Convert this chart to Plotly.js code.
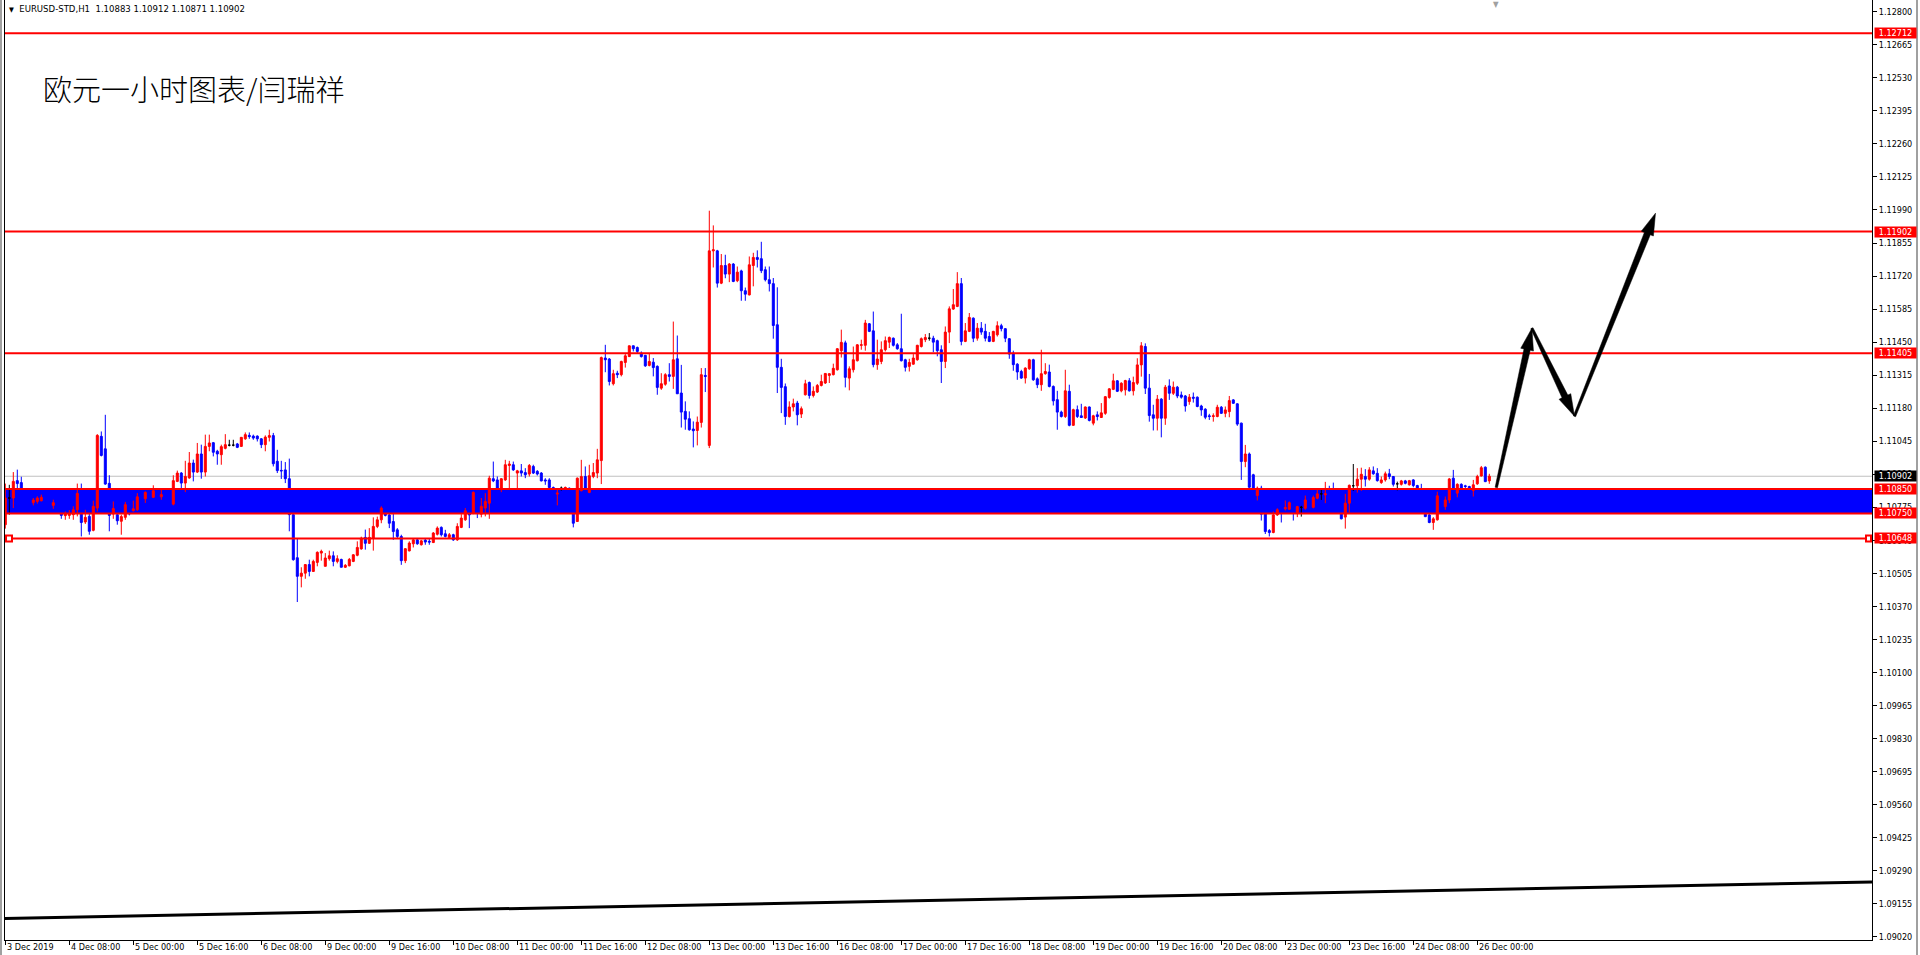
<!DOCTYPE html>
<html><head><meta charset="utf-8">
<script src="https://cdn.plot.ly/plotly-3.0.1.min.js"></script>
<style>html,body{margin:0;padding:0;background:#fff;overflow:hidden}#chart{width:1920px;height:955px}</style>
</head><body><div id="chart"></div>
<script>
// ---- EURUSD H1 candles (bar 0 = 3 Dec 2019 16:00) ----
const openP = [
1.10704,1.10813,1.10813,1.10884,1.10876,1.10827,1.10806,1.10794,1.10799,1.10802,
1.10806,1.10797,1.10783,1.10791,1.10752,1.10741,1.10742,1.10745,1.10765,1.10830,
1.10715,1.10738,1.10681,1.10772,1.11065,1.11014,1.10873,1.10748,1.10745,1.10718,
1.10734,1.10783,1.10761,1.10765,1.10818,1.10810,1.10836,1.10816,1.10843,1.10818,
1.10827,1.10813,1.10788,1.10881,1.10915,1.10874,1.10895,1.10956,1.10919,1.10993,
1.10919,1.11024,1.11039,1.11004,1.10990,1.11016,1.11029,1.11029,1.11034,1.11024,
1.11055,1.11069,1.11066,1.11066,1.11055,1.11031,1.11061,1.11068,1.10963,1.10926,
1.10928,1.10892,1.10745,1.10569,1.10493,1.10506,1.10541,1.10513,1.10550,1.10588,
1.10534,1.10565,1.10577,1.10554,1.10562,1.10530,1.10536,1.10554,1.10579,1.10605,
1.10652,1.10628,1.10649,1.10697,1.10724,1.10751,1.10744,1.10717,1.10683,1.10656,
1.10557,1.10597,1.10626,1.10642,1.10622,1.10641,1.10636,1.10631,1.10665,1.10693,
1.10667,1.10652,1.10663,1.10642,1.10693,1.10724,1.10751,1.10751,1.10836,1.10747,
1.10772,1.10792,1.10892,1.10887,1.10853,1.10887,1.10946,1.10949,1.10915,1.10924,
1.10917,1.10911,1.10942,1.10922,1.10915,1.10887,1.10887,1.10856,1.10829,1.10853,
1.10851,1.10853,1.10751,1.10717,1.10843,1.10901,1.10836,1.10901,1.10915,1.10966,
1.11385,1.11381,1.11280,1.11323,1.11317,1.11367,1.11391,1.11435,1.11428,1.11405,
1.11396,1.11355,1.11368,1.11351,1.11262,1.11278,1.11317,1.11310,1.11382,1.11242,
1.11167,1.11137,1.11095,1.11089,1.11122,1.11314,1.11028,1.11823,1.11823,1.11691,
1.11763,1.11728,1.11769,1.11701,1.11741,1.11660,1.11643,1.11763,1.11796,1.11791,
1.11746,1.11705,1.11689,1.11521,1.11347,1.11268,1.11146,1.11185,1.11201,1.11156,
1.11235,1.11285,1.11232,1.11246,1.11273,1.11283,1.11314,1.11317,1.11337,1.11415,
1.11447,1.11303,1.11337,1.11374,1.11437,1.11437,1.11525,1.11496,1.11358,1.11371,
1.11419,1.11450,1.11466,1.11439,1.11423,1.11378,1.11351,1.11360,1.11378,1.11432,
1.11460,1.11466,1.11466,1.11456,1.11419,1.11371,1.11491,1.11585,1.11596,1.11689,
1.11453,1.11494,1.11548,1.11466,1.11507,1.11494,1.11473,1.11453,1.11480,1.11517,
1.11505,1.11464,1.11405,1.11360,1.11330,1.11303,1.11341,1.11378,1.11300,1.11276,
1.11321,1.11328,1.11269,1.11215,1.11164,1.11146,1.11249,1.11110,1.11174,1.11149,
1.11140,1.11185,1.11119,1.11153,1.11142,1.11159,1.11224,1.11257,1.11292,1.11251,
1.11255,1.11292,1.11251,1.11282,1.11357,1.11432,1.11262,1.11153,1.11139,1.11217,
1.11139,1.11271,1.11241,1.11266,1.11234,1.11230,1.11207,1.11225,1.11225,1.11189,
1.11176,1.11149,1.11146,1.11146,1.11184,1.11159,1.11166,1.11214,1.11198,1.11119,
1.10962,1.10993,1.10908,1.10823,1.10853,1.10748,1.10680,1.10672,1.10744,1.10765,
1.10769,1.10767,1.10794,1.10754,1.10775,1.10771,1.10805,1.10775,1.10812,1.10830,
1.10826,1.10830,1.10812,1.10792,1.10754,1.10735,1.10792,1.10863,1.10863,1.10890,
1.10901,1.10890,1.10924,1.10914,1.10876,1.10887,1.10912,1.10901,1.10871,1.10869,
1.10883,1.10867,1.10887,1.10864,1.10819,1.10778,1.10744,1.10713,1.10724,1.10822,
1.10778,1.10805,1.10894,1.10833,1.10869,1.10863,1.10860,1.10844,1.10871,1.10903,
1.10939,1.10883];
const highP = [
1.10872,1.10867,1.10919,1.10929,1.10900,1.10840,1.10820,1.10813,1.10820,1.10827,
1.10813,1.10805,1.10806,1.10799,1.10765,1.10758,1.10764,1.10779,1.10872,1.10872,
1.10765,1.10752,1.10802,1.11074,1.11085,1.11153,1.10906,1.10799,1.10765,1.10745,
1.10797,1.10793,1.10802,1.10833,1.10827,1.10840,1.10847,1.10865,1.10851,1.10846,
1.10837,1.10820,1.10906,1.10925,1.10919,1.10965,1.11001,1.10970,1.11038,1.11031,
1.11072,1.11072,1.11042,1.11010,1.11031,1.11074,1.11051,1.11051,1.11038,1.11062,
1.11081,1.11081,1.11072,1.11069,1.11058,1.11069,1.11092,1.11079,1.11010,1.10965,
1.10960,1.10974,1.10752,1.10649,1.10530,1.10543,1.10561,1.10561,1.10595,1.10602,
1.10588,1.10598,1.10595,1.10579,1.10565,1.10543,1.10568,1.10584,1.10636,1.10655,
1.10684,1.10690,1.10734,1.10737,1.10779,1.10758,1.10751,1.10751,1.10690,1.10663,
1.10608,1.10636,1.10646,1.10649,1.10642,1.10646,1.10649,1.10674,1.10697,1.10697,
1.10683,1.10670,1.10667,1.10710,1.10747,1.10772,1.10755,1.10840,1.10840,1.10813,
1.10833,1.10904,1.10962,1.10901,1.10894,1.10969,1.10965,1.10962,1.10928,1.10952,
1.10935,1.10952,1.10949,1.10927,1.10919,1.10894,1.10894,1.10860,1.10853,1.10860,
1.10860,1.10856,1.10758,1.10897,1.10969,1.10942,1.10949,1.10956,1.11014,1.11391,
1.11439,1.11385,1.11337,1.11333,1.11374,1.11401,1.11436,1.11436,1.11432,1.11412,
1.11398,1.11405,1.11385,1.11355,1.11323,1.11323,1.11364,1.11534,1.11477,1.11357,
1.11208,1.11167,1.11126,1.11146,1.11344,1.11344,1.11987,1.11927,1.11827,1.11810,
1.11807,1.11773,1.11773,1.11759,1.11746,1.11673,1.11800,1.11815,1.11825,1.11860,
1.11759,1.11759,1.11712,1.11674,1.11382,1.11281,1.11208,1.11219,1.11210,1.11187,
1.11296,1.11289,1.11269,1.11279,1.11317,1.11323,1.11323,1.11362,1.11426,1.11501,
1.11456,1.11351,1.11432,1.11442,1.11460,1.11541,1.11528,1.11575,1.11460,1.11453,
1.11473,1.11473,1.11469,1.11446,1.11566,1.11382,1.11382,1.11401,1.11439,1.11469,
1.11483,1.11487,1.11476,1.11460,1.11437,1.11514,1.11596,1.11667,1.11736,1.11712,
1.11528,1.11569,1.11551,1.11528,1.11532,1.11525,1.11491,1.11496,1.11535,1.11525,
1.11507,1.11466,1.11415,1.11364,1.11337,1.11347,1.11382,1.11382,1.11306,1.11419,
1.11364,1.11358,1.11273,1.11251,1.11170,1.11337,1.11276,1.11178,1.11191,1.11198,
1.11187,1.11187,1.11153,1.11167,1.11201,1.11230,1.11262,1.11321,1.11295,1.11286,
1.11296,1.11303,1.11309,1.11384,1.11450,1.11445,1.11320,1.11194,1.11234,1.11221,
1.11275,1.11298,1.11289,1.11271,1.11248,1.11234,1.11238,1.11244,1.11228,1.11194,
1.11180,1.11157,1.11159,1.11194,1.11189,1.11187,1.11230,1.11217,1.11200,1.11121,
1.11030,1.10999,1.10912,1.10860,1.10863,1.10754,1.10686,1.10758,1.10771,1.10778,
1.10803,1.10799,1.10805,1.10781,1.10781,1.10823,1.10816,1.10823,1.10846,1.10846,
1.10879,1.10863,1.10876,1.10799,1.10758,1.10830,1.10868,1.10952,1.10935,1.10937,
1.10931,1.10939,1.10942,1.10935,1.10901,1.10921,1.10932,1.10903,1.10880,1.10887,
1.10887,1.10887,1.10890,1.10867,1.10871,1.10785,1.10758,1.10735,1.10839,1.10833,
1.10819,1.10895,1.10928,1.10873,1.10873,1.10867,1.10863,1.10887,1.10908,1.10944,
1.10942,1.10912];
const lowP = [
1.10688,1.10745,1.10772,1.10851,1.10813,1.10793,1.10786,1.10783,1.10790,1.10799,
1.10791,1.10783,1.10769,1.10758,1.10728,1.10724,1.10728,1.10724,1.10738,1.10656,
1.10707,1.10663,1.10677,1.10758,1.10983,1.10867,1.10677,1.10728,1.10704,1.10663,
1.10724,1.10742,1.10758,1.10761,1.10799,1.10793,1.10813,1.10813,1.10816,1.10806,
1.10806,1.10788,1.10783,1.10878,1.10854,1.10837,1.10892,1.10881,1.10915,1.10892,
1.10901,1.11004,1.10983,1.10949,1.10949,1.11012,1.11024,1.11024,1.11017,1.11023,
1.11051,1.11055,1.11051,1.11044,1.11017,1.11004,1.11044,1.10942,1.10915,1.10891,
1.10874,1.10677,1.10557,1.10388,1.10448,1.10483,1.10493,1.10513,1.10534,1.10557,
1.10534,1.10557,1.10534,1.10546,1.10530,1.10527,1.10534,1.10551,1.10575,1.10602,
1.10602,1.10625,1.10598,1.10690,1.10710,1.10738,1.10690,1.10642,1.10649,1.10540,
1.10547,1.10595,1.10611,1.10622,1.10619,1.10622,1.10622,1.10629,1.10660,1.10656,
1.10652,1.10649,1.10638,1.10638,1.10690,1.10720,1.10690,1.10747,1.10731,1.10734,
1.10738,1.10728,1.10878,1.10851,1.10837,1.10883,1.10853,1.10924,1.10853,1.10901,
1.10894,1.10901,1.10911,1.10905,1.10881,1.10867,1.10853,1.10829,1.10783,1.10843,
1.10847,1.10755,1.10693,1.10715,1.10840,1.10851,1.10833,1.10894,1.10894,1.10870,
1.11327,1.11273,1.11273,1.11303,1.11310,1.11346,1.11389,1.11412,1.11405,1.11387,
1.11349,1.11351,1.11310,1.11235,1.11255,1.11272,1.11289,1.11259,1.11238,1.11101,
1.11092,1.11088,1.11020,1.11028,1.11101,1.11246,1.11017,1.11755,1.11673,1.11687,
1.11711,1.11695,1.11695,1.11695,1.11619,1.11619,1.11641,1.11678,1.11755,1.11732,
1.11698,1.11657,1.11464,1.11242,1.11160,1.11112,1.11142,1.11167,1.11110,1.11140,
1.11232,1.11219,1.11224,1.11242,1.11269,1.11279,1.11283,1.11314,1.11334,1.11387,
1.11265,1.11253,1.11326,1.11371,1.11419,1.11415,1.11491,1.11347,1.11337,1.11360,
1.11412,1.11426,1.11432,1.11419,1.11371,1.11330,1.11330,1.11358,1.11374,1.11428,
1.11450,1.11456,1.11409,1.11392,1.11283,1.11344,1.11446,1.11582,1.11593,1.11437,
1.11450,1.11491,1.11450,1.11456,1.11480,1.11453,1.11450,1.11450,1.11473,1.11494,
1.11450,1.11382,1.11333,1.11296,1.11300,1.11281,1.11337,1.11292,1.11262,1.11251,
1.11317,1.11265,1.11191,1.11092,1.11142,1.11140,1.11106,1.11108,1.11140,1.11140,
1.11136,1.11126,1.11110,1.11130,1.11140,1.11153,1.11219,1.11254,1.11246,1.11245,
1.11232,1.11248,1.11232,1.11275,1.11309,1.11238,1.11125,1.11089,1.11089,1.11061,
1.11112,1.11214,1.11234,1.11221,1.11219,1.11166,1.11194,1.11203,1.11184,1.11149,
1.11135,1.11132,1.11125,1.11143,1.11157,1.11143,1.11143,1.11198,1.11108,1.10887,
1.10939,1.10846,1.10826,1.10803,1.10721,1.10666,1.10656,1.10669,1.10740,1.10713,
1.10762,1.10765,1.10721,1.10735,1.10737,1.10765,1.10785,1.10771,1.10808,1.10805,
1.10792,1.10805,1.10785,1.10754,1.10726,1.10688,1.10754,1.10842,1.10835,1.10842,
1.10860,1.10884,1.10908,1.10880,1.10871,1.10880,1.10890,1.10860,1.10844,1.10864,
1.10869,1.10864,1.10857,1.10812,1.10771,1.10735,1.10710,1.10683,1.10721,1.10778,
1.10765,1.10792,1.10846,1.10816,1.10846,1.10844,1.10835,1.10819,1.10867,1.10901,
1.10878,1.10871];
const closeP = [
1.10813,1.10813,1.10881,1.10872,1.10827,1.10806,1.10797,1.10805,1.10813,1.10816,
1.10797,1.10788,1.10794,1.10765,1.10742,1.10748,1.10750,1.10765,1.10832,1.10713,
1.10734,1.10677,1.10779,1.11069,1.10987,1.10870,1.10742,1.10770,1.10720,1.10737,
1.10786,1.10748,1.10769,1.10818,1.10806,1.10836,1.10820,1.10843,1.10824,1.10827,
1.10813,1.10797,1.10884,1.10915,1.10874,1.10901,1.10956,1.10919,1.10993,1.10919,
1.11024,1.11038,1.11000,1.10993,1.11023,1.11031,1.11029,1.11029,1.11020,1.11061,
1.11072,1.11064,1.11058,1.11055,1.11031,1.11062,1.11068,1.10953,1.10925,1.10924,
1.10892,1.10745,1.10561,1.10493,1.10506,1.10541,1.10513,1.10554,1.10591,1.10595,
1.10568,1.10577,1.10554,1.10565,1.10530,1.10538,1.10562,1.10581,1.10611,1.10649,
1.10628,1.10652,1.10697,1.10724,1.10772,1.10742,1.10710,1.10676,1.10656,1.10557,
1.10606,1.10629,1.10642,1.10626,1.10638,1.10633,1.10633,1.10670,1.10690,1.10663,
1.10656,1.10663,1.10642,1.10697,1.10731,1.10761,1.10744,1.10836,1.10751,1.10779,
1.10799,1.10894,1.10883,1.10853,1.10892,1.10949,1.10952,1.10928,1.10924,1.10915,
1.10908,1.10946,1.10915,1.10911,1.10883,1.10883,1.10856,1.10833,1.10833,1.10853,
1.10856,1.10758,1.10710,1.10894,1.10901,1.10853,1.10904,1.10917,1.10969,1.11387,
1.11378,1.11289,1.11321,1.11317,1.11371,1.11394,1.11435,1.11423,1.11412,1.11391,
1.11353,1.11371,1.11346,1.11265,1.11280,1.11317,1.11310,1.11378,1.11239,1.11164,
1.11135,1.11092,1.11088,1.11123,1.11317,1.11310,1.11823,1.11827,1.11691,1.11763,
1.11728,1.11769,1.11698,1.11736,1.11660,1.11646,1.11766,1.11796,1.11788,1.11742,
1.11705,1.11689,1.11518,1.11347,1.11265,1.11146,1.11185,1.11198,1.11153,1.11178,
1.11280,1.11232,1.11249,1.11273,1.11289,1.11322,1.11321,1.11343,1.11423,1.11449,
1.11306,1.11341,1.11378,1.11439,1.11439,1.11528,1.11494,1.11358,1.11381,1.11419,
1.11456,1.11469,1.11437,1.11423,1.11374,1.11347,1.11367,1.11385,1.11437,1.11464,
1.11469,1.11466,1.11450,1.11415,1.11371,1.11491,1.11586,1.11603,1.11689,1.11453,
1.11496,1.11551,1.11466,1.11507,1.11491,1.11466,1.11453,1.11494,1.11517,1.11505,
1.11466,1.11401,1.11358,1.11328,1.11303,1.11344,1.11378,1.11296,1.11276,1.11321,
1.11330,1.11269,1.11210,1.11164,1.11146,1.11251,1.11110,1.11174,1.11146,1.11142,
1.11185,1.11130,1.11149,1.11146,1.11161,1.11227,1.11259,1.11292,1.11249,1.11282,
1.11293,1.11251,1.11285,1.11357,1.11435,1.11262,1.11150,1.11139,1.11217,1.11139,
1.11266,1.11241,1.11266,1.11230,1.11225,1.11189,1.11225,1.11221,1.11187,1.11173,
1.11143,1.11146,1.11149,1.11184,1.11159,1.11173,1.11211,1.11200,1.11115,1.10962,
1.10993,1.10857,1.10833,1.10853,1.10747,1.10676,1.10672,1.10744,1.10765,1.10754,
1.10774,1.10794,1.10778,1.10778,1.10775,1.10805,1.10792,1.10815,1.10830,1.10830,
1.10830,1.10812,1.10792,1.10758,1.10728,1.10792,1.10865,1.10863,1.10890,1.10910,
1.10890,1.10928,1.10912,1.10884,1.10887,1.10912,1.10901,1.10869,1.10871,1.10883,
1.10873,1.10884,1.10864,1.10819,1.10778,1.10737,1.10713,1.10728,1.10822,1.10785,
1.10805,1.10891,1.10849,1.10869,1.10850,1.10860,1.10844,1.10867,1.10901,1.10937,
1.10880,1.10902];

// ---- time axis labels (bar index of each label) ----
const xTickBars = [0,16,32,48,64,80,96,112,128,144,160,176,192,208,224,240,256,272,288,304,320,336,352,368];
const xTickText = ["3 Dec 2019","4 Dec 08:00","5 Dec 00:00","5 Dec 16:00","6 Dec 08:00","9 Dec 00:00","9 Dec 16:00",
  "10 Dec 08:00","11 Dec 00:00","11 Dec 16:00","12 Dec 08:00","13 Dec 00:00","13 Dec 16:00","16 Dec 08:00",
  "17 Dec 00:00","17 Dec 16:00","18 Dec 08:00","19 Dec 00:00","19 Dec 16:00","20 Dec 08:00","23 Dec 00:00",
  "23 Dec 16:00","24 Dec 08:00","26 Dec 00:00"];
// ---- price axis ticks ----
const yTickVals = [1.12800,1.12665,1.12530,1.12395,1.12260,1.12125,1.11990,1.11855,1.11720,1.11585,1.11450,
  1.11315,1.11180,1.11045,1.10910,1.10775,1.10640,1.10505,1.10370,1.10235,1.10100,1.09965,1.09830,1.09695,
  1.09560,1.09425,1.09290,1.09155,1.09020];
// ---- drawn objects ----
const redLevels = [1.12712, 1.11902, 1.11405, 1.10850, 1.10750, 1.10648];
const bandLevels = [1.10750, 1.10850];
const bidLevel = 1.10902;
const trendLine = [[-0.075, 1.09095], [466.675, 1.09244]];
const arrowPts = [[372.75, 1.10856], [381.65, 1.11507], [392.3, 1.11147], [412.55, 1.11977]];
const titleText = "欧元一小时图表/闫瑞祥";
const symbolText = "EURUSD-STD,H1";

if (![highP,lowP,closeP].every(a => a.length === openP.length)) console.error('length mismatch', openP.length, highP.length, lowP.length, closeP.length);

const F = "DejaVu Sans Condensed, DejaVu Sans, sans-serif";
const XR = [-0.075, 466.675], YR = [1.09007, 1.12848], W = 1867, H = 940;

const N = openP.length;
const grp = {up: [], down: [], doji: []};
for (let i = 0; i < N; i++) {
  grp[closeP[i] > openP[i] ? 'up' : (closeP[i] < openP[i] ? 'down' : 'doji')].push(i);
}
function ck(idx, color) {
  return {type: 'candlestick', x: idx, open: idx.map(i => openP[i]), high: idx.map(i => highP[i]),
    low: idx.map(i => lowP[i]), close: idx.map(i => closeP[i]),
    increasing: {line: {color: color, width: 1}, fillcolor: color},
    decreasing: {line: {color: color, width: 1}, fillcolor: color},
    whiskerwidth: 0, hoverinfo: 'skip', showlegend: false};
}
const data = [ck(grp.up, '#FF0000'), ck(grp.down, '#0000FF'), ck(grp.doji, '#000000')];

// pixel <-> data helpers for the tapered arrows
const toPx = p => [(p[0] - XR[0]) / (XR[1] - XR[0]) * W, (YR[1] - p[1]) / (YR[1] - YR[0]) * H];
const toData = q => [XR[0] + q[0] / W * (XR[1] - XR[0]), YR[1] - q[1] / H * (YR[1] - YR[0])];
function arrowPath(p0, p1) {
  const a = toPx(p0), b = toPx(p1);
  const dx = b[0] - a[0], dy = b[1] - a[1], L = Math.hypot(dx, dy);
  const ux = dx / L, uy = dy / L, nx = -uy, ny = ux;
  const hl = 22, hw = 6.5, w0 = 1.2, w1 = 3.2;
  const c = [b[0] - ux * hl, b[1] - uy * hl];
  const pts = [[a[0] + nx * w0, a[1] + ny * w0], [c[0] + nx * w1, c[1] + ny * w1], [c[0] + nx * hw, c[1] + ny * hw],
    b, [c[0] - nx * hw, c[1] - ny * hw], [c[0] - nx * w1, c[1] - ny * w1], [a[0] - nx * w0, a[1] - ny * w0]];
  return 'M' + pts.map(q => toData(q).join(',')).join('L') + 'Z';
}

const shapes = [];
shapes.push({type: 'rect', xref: 'paper', x0: 0, x1: 1, yref: 'y', y0: bandLevels[0], y1: bandLevels[1],
  fillcolor: '#0000FF', line: {width: 0}, layer: 'below'});
shapes.push({type: 'line', xref: 'paper', x0: 0, x1: 1, yref: 'y', y0: bidLevel, y1: bidLevel,
  line: {color: '#C0C0C0', width: 1}, layer: 'below'});
redLevels.forEach(v => shapes.push({type: 'line', xref: 'paper', x0: 0, x1: 1, yref: 'y', y0: v, y1: v,
  line: {color: '#FF0000', width: 2}, layer: 'above'}));
// small end markers of the 1.10648 line
[[0, 1, 7], [1, -6, -1]].forEach(m => shapes.push({type: 'rect', xref: 'paper', xsizemode: 'pixel', xanchor: m[0],
  x0: m[1], x1: m[2], yref: 'y', ysizemode: 'pixel', yanchor: redLevels[5], y0: -3, y1: 3,
  fillcolor: '#FFFFFF', line: {color: '#FF0000', width: 2}, layer: 'above'}));
shapes.push({type: 'line', xref: 'x', yref: 'y', x0: trendLine[0][0], y0: trendLine[0][1], x1: trendLine[1][0], y1: trendLine[1][1],
  line: {color: '#000000', width: 3}, layer: 'above'});
for (let k = 0; k < arrowPts.length - 1; k++) {
  shapes.push({type: 'path', xref: 'x', yref: 'y', path: arrowPath(arrowPts[k], arrowPts[k + 1]),
    fillcolor: '#000000', line: {color: '#000000', width: 0.5}, layer: 'above'});
}
// window frame lines
shapes.push({type: 'line', xref: 'paper', yref: 'paper', x0: -4 / W, x1: -4 / W, y0: -15 / H, y1: 1, line: {color: '#A0A0A0', width: 2}});
shapes.push({type: 'line', xref: 'paper', yref: 'paper', x0: 1 + 45 / W, x1: 1 + 45 / W, y0: -15 / H, y1: 1, line: {color: '#A0A0A0', width: 2}});

const annotations = [];
xTickBars.forEach((b, k) => annotations.push({xref: 'x', x: b, xanchor: 'left', xshift: 1, yref: 'paper', y: 0,
  yanchor: 'top', yshift: -1, text: xTickText[k], showarrow: false, borderpad: 0, font: {family: F, size: 9, color: '#000'}}));
function priceLabel(v, bg) {
  return {xref: 'paper', x: 1, xanchor: 'left', xshift: 2, yref: 'y', y: v, yanchor: 'middle', text: v.toFixed(5),
    showarrow: false, bgcolor: bg, borderpad: 0, width: 41, height: 10, align: 'center',
    font: {family: F, size: 9, color: '#FFFFFF'}};
}
annotations.push(priceLabel(bidLevel, '#000000'));
redLevels.forEach(v => annotations.push(priceLabel(v, '#FF0000')));
const lastI = N - 1;
annotations.push({xref: 'paper', x: 0, xanchor: 'left', xshift: 3, yref: 'paper', y: 1, yanchor: 'top', yshift: -2,
  showarrow: false, borderpad: 0, font: {family: F, size: 9.5, color: '#000'},
  text: '<span style="font-size:7px">▼</span>\u00a0\u00a0' + symbolText + '\u00a0\u00a0' +
    [openP[lastI], highP[lastI], lowP[lastI], closeP[lastI]].map(v => v.toFixed(5)).join(' ')});
annotations.push({xref: 'paper', x: 0, xanchor: 'left', xshift: 37, yref: 'paper', y: 1, yanchor: 'middle', yshift: -88,
  showarrow: false, borderpad: 0, text: titleText,
  font: {family: 'Noto Sans CJK SC, sans-serif', size: 29, weight: 300, color: '#000'}});
annotations.push({xref: 'x', x: arrowPts[0][0], yref: 'paper', y: 1, yanchor: 'top', yshift: 1, showarrow: false,
  borderpad: 0, text: '▼', font: {family: F, size: 8, color: '#A0A0A0'}});

const layout = {
  width: 1920, height: 955, margin: {l: 5, r: 48, t: 0, b: 15, autoexpand: false},
  paper_bgcolor: '#FFFFFF', plot_bgcolor: '#FFFFFF', showlegend: false,
  boxgap: 0.5, boxgroupgap: 0,
  xaxis: {type: 'linear', range: XR, showgrid: false, zeroline: false, tickmode: 'array', tickvals: xTickBars,
    ticks: 'outside', ticklen: 4, tickcolor: '#000', tickwidth: 1, showticklabels: false,
    showline: true, linecolor: '#000', linewidth: 1, rangeslider: {visible: false}, fixedrange: true},
  yaxis: {side: 'right', range: YR, showgrid: false, zeroline: false, tickmode: 'array', tickvals: yTickVals,
    ticktext: yTickVals.map(v => v.toFixed(5)), ticks: 'outside', ticklen: 4, tickcolor: '#000',
    showline: true, mirror: true, linecolor: '#000', linewidth: 1,
    tickfont: {family: F, size: 9, color: '#000'}, fixedrange: true},
  shapes: shapes, annotations: annotations
};
Plotly.newPlot('chart', data, layout, {displayModeBar: false, staticPlot: true});
</script></body></html>
